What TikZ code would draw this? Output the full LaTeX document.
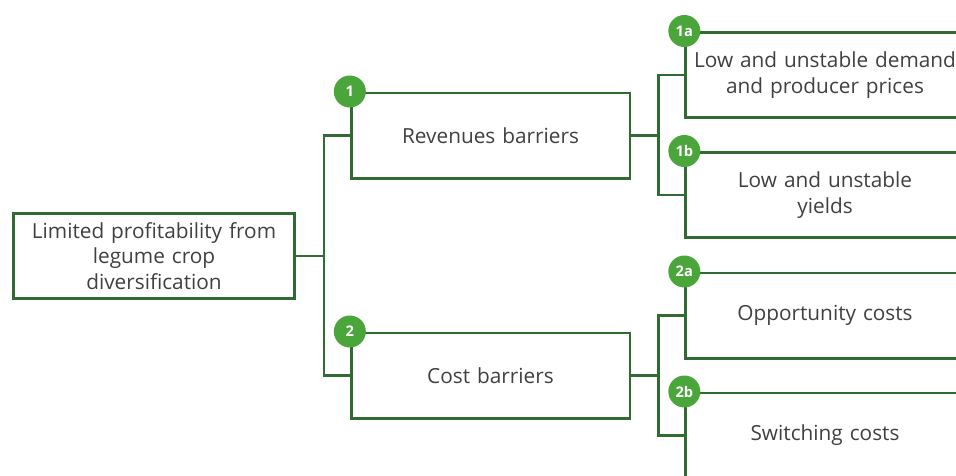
\documentclass[tikz,border=0pt]{standalone}
\usepackage{fontspec}
\setmainfont{Open Sans}
\usepackage{tikz}
\usetikzlibrary{calc}

\definecolor{linegreen}{HTML}{2F6B33}
\definecolor{badgegreen}{HTML}{4AA63A}
\definecolor{textgrey}{HTML}{404040}

\begin{document}
\begin{tikzpicture}[x=0.75pt, y=-0.75pt, thick,
    box/.style={draw=linegreen, line width=2pt, text width=209pt, minimum height=64pt,
        align=center, inner sep=0pt, text=textgrey, font=\fontsize{15.6}{19}\selectfont},
    tag/.style={circle, fill=badgegreen, text=white, minimum size=24pt, inner sep=0pt,
        font=\fontsize{11}{12}\selectfont\bfseries},
    link/.style={draw=linegreen, line width=2pt}]
    \useasboundingbox (0,0) rectangle (956,475);
    \clip (0,0) rectangle (956,475);

    % boxes
    \node[box, text width=211pt] (root) at (154,256) {Limited profitability from\\legume crop\\diversification};
    \node[box] (rev) at (490.5,135.5) {Revenues barriers};
    \node[box] (cost) at (490.5,375.5) {Cost barriers};
    \node[box] (rev1) at (825,75) {Low and unstable demand\\and producer prices};
    \node[box] (rev2) at (825,195) {Low and unstable\\yields};
    \node[box] (cost1) at (825,315.5) {Opportunity costs};
    \node[box] (cost2) at (825,435.5) {Switching costs};

    % connectors
    \coordinate (j0) at ($(root.east)+(28,0)$);
    \coordinate (j1) at ($(rev.east)+(27,0)$);
    \coordinate (j2) at ($(cost.east)+(27,0)$);
    \draw[link] (root.east) -- (j0);
    \draw[link] (rev.west) -| (j0) |- (cost.west);
    \draw[link] (rev.east) -- (j1);
    \draw[link] (rev1.west) -| (j1) |- (rev2.west);
    \draw[link] (cost.east) -- (j2);
    \draw[link] (cost1.west) -| (j2) |- (cost2.west);

    % badges
    \node[tag] (t1) at (rev.north west) {1};
    \node[tag] (t2) at (cost.north west) {2};
    \node[tag] (t1a) at (rev1.north west) {1a};
    \node[tag] (t1b) at (rev2.north west) {1b};
    \node[tag] (t2a) at (cost1.north west) {2a};
    \node[tag] (t2b) at (cost2.north west) {2b};
\end{tikzpicture}
\end{document}
